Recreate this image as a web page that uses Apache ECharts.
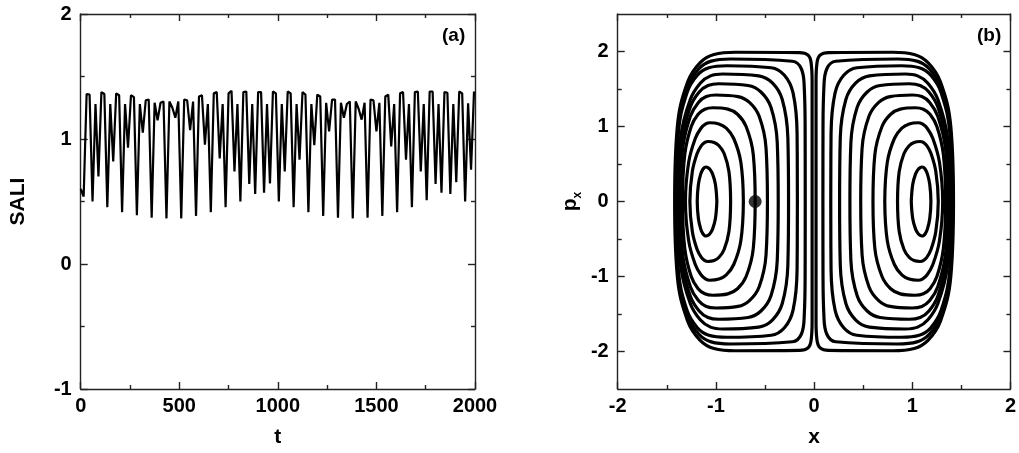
<!DOCTYPE html>
<html><head><meta charset="utf-8">
<script src="https://cdn.jsdelivr.net/npm/echarts@6/dist/echarts.min.js"></script>
<style>html,body{margin:0;padding:0;background:#fff}#c{width:1019px;height:453px}</style>
</head><body><div id="c"></div>
<script>
// ---------- panel (a): SALI vs t ----------
const tValues = [0,15,30,45,60,75,90,105,120,135,150,165,180,195,210,225,240,255,270,285,300,315,330,345,360,375,390,405,420,435,450,465,480,495,510,525,540,555,570,585,600,615,630,645,660,675,690,705,720,735,750,765,780,795,810,825,840,855,870,885,900,915,930,945,960,975,990,1005,1020,1035,1050,1065,1080,1095,1110,1125,1140,1155,1170,1185,1200,1215,1230,1245,1260,1275,1290,1305,1320,1335,1350,1365,1380,1395,1410,1425,1440,1455,1470,1485,1500,1515,1530,1545,1560,1575,1590,1605,1620,1635,1650,1665,1680,1695,1710,1725,1740,1755,1770,1785,1800,1815,1830,1845,1860,1875,1890,1905,1920,1935,1950,1965,1980,1995];
const saliValues = [0.60,0.54,1.36,1.355,0.50, 1.28,0.70,1.375,1.36,0.455, 1.28,0.82,1.365,1.35,0.415, 1.28,0.93,1.35,1.335,0.39, 1.28,1.05,1.31,1.315,0.37, 1.29,1.15,1.29,1.30,0.365, 1.30,1.25,1.17,1.30,0.365, 1.315,1.31,1.07,1.30,0.385, 1.34,1.35,0.955,1.28,0.415, 1.365,1.375,0.845,1.28,0.455, 1.365,1.385,0.74,1.28,0.50, 1.375,1.38,0.64,1.28,0.56, 1.375,1.375,0.57,1.28,0.645, 1.38,1.365,0.50,1.28,0.74, 1.38,1.365,0.455,1.28,0.835, 1.375,1.355,0.415,1.28,0.95, 1.355,1.34,0.385,1.29,1.06, 1.315,1.315,0.37,1.29,1.17, 1.28,1.30,0.365,1.30,1.24, 1.155,1.29,0.37,1.315,1.31, 1.06,1.29,0.385,1.34,1.355, 0.94,1.28,0.415,1.365,1.375, 0.835,1.28,0.455,1.375,1.38, 0.74,1.28,0.51,1.38,1.38, 0.64,1.28,0.57,1.375,1.37, 0.56,1.28,0.655,1.38,1.365, 0.50,1.285,0.755,1.38];

// ---------- panel (b): Poincare section (x, px) ----------
const leftIsland = [
[[-0.99,0],[-1.005,0.23],[-1.034,0.368],[-1.06,0.428],[-1.081,0.453],[-1.1,0.46],[-1.116,0.453],[-1.133,0.428],[-1.154,0.368],[-1.178,0.23],[-1.19,0],[-1.178,-0.23],[-1.154,-0.368],[-1.133,-0.428],[-1.116,-0.453],[-1.1,-0.46],[-1.081,-0.453],[-1.06,-0.428],[-1.034,-0.368],[-1.005,-0.23],[-0.99,0]],
[[-0.85,0],[-0.867,0.4],[-0.916,0.64],[-0.968,0.744],[-1.018,0.788],[-1.08,0.8],[-1.112,0.788],[-1.148,0.744],[-1.191,0.64],[-1.24,0.4],[-1.265,0],[-1.24,-0.4],[-1.191,-0.64],[-1.148,-0.744],[-1.112,-0.788],[-1.08,-0.8],[-1.018,-0.788],[-0.968,-0.744],[-0.916,-0.64],[-0.867,-0.4],[-0.85,0]],
[[-0.72,0],[-0.746,0.525],[-0.818,0.84],[-0.894,0.977],[-0.969,1.034],[-1.06,1.05],[-1.103,1.034],[-1.152,0.977],[-1.21,0.84],[-1.277,0.525],[-1.31,0],[-1.277,-0.525],[-1.21,-0.84],[-1.152,-0.977],[-1.103,-1.034],[-1.06,-1.05],[-0.969,-1.034],[-0.894,-0.977],[-0.818,-0.84],[-0.746,-0.525],[-0.72,0]],
[[-0.6,0],[-0.619,0.625],[-0.692,1],[-0.78,1.163],[-0.878,1.231],[-1.03,1.25],[-1.113,1.231],[-1.181,1.163],[-1.251,1],[-1.317,0.625],[-1.34,0],[-1.317,-0.625],[-1.251,-1],[-1.181,-1.163],[-1.113,-1.231],[-1.03,-1.25],[-0.878,-1.231],[-0.78,-1.163],[-0.692,-1],[-0.619,-0.625],[-0.6,0]],
[[-0.475,0],[-0.489,0.71],[-0.559,1.136],[-0.658,1.321],[-0.775,1.399],[-1,1.42],[-1.098,1.399],[-1.178,1.321],[-1.26,1.136],[-1.338,0.71],[-1.365,0],[-1.338,-0.71],[-1.26,-1.136],[-1.178,-1.321],[-1.098,-1.399],[-1,-1.42],[-0.775,-1.399],[-0.658,-1.321],[-0.559,-1.136],[-0.489,-0.71],[-0.475,0]],
[[-0.365,0],[-0.375,0.785],[-0.439,1.256],[-0.541,1.46],[-0.672,1.547],[-0.97,1.57],[-1.08,1.547],[-1.17,1.46],[-1.262,1.256],[-1.349,0.785],[-1.38,0],[-1.349,-0.785],[-1.262,-1.256],[-1.17,-1.46],[-1.08,-1.547],[-0.97,-1.57],[-0.672,-1.547],[-0.541,-1.46],[-0.439,-1.256],[-0.375,-0.785],[-0.365,0]],
[[-0.26,0],[-0.267,0.85],[-0.324,1.36],[-0.425,1.581],[-0.564,1.675],[-0.93,1.7],[-1.055,1.675],[-1.157,1.581],[-1.261,1.36],[-1.36,0.85],[-1.395,0],[-1.36,-0.85],[-1.261,-1.36],[-1.157,-1.581],[-1.055,-1.675],[-0.93,-1.7],[-0.564,-1.675],[-0.425,-1.581],[-0.324,-1.36],[-0.267,-0.85],[-0.26,0]],
[[-0.17,0],[-0.173,0.905],[-0.214,1.448],[-0.302,1.683],[-0.436,1.783],[-0.89,1.81],[-1.072,1.783],[-1.189,1.683],[-1.295,1.448],[-1.383,0.905],[-1.405,0],[-1.383,-0.905],[-1.295,-1.448],[-1.189,-1.683],[-1.072,-1.783],[-0.89,-1.81],[-0.436,-1.783],[-0.302,-1.683],[-0.214,-1.448],[-0.173,-0.905],[-0.17,0]],
[[-0.09,0],[-0.091,0.95],[-0.1,1.52],[-0.13,1.77],[-0.22,1.87],[-0.85,1.9],[-1.048,1.872],[-1.175,1.767],[-1.291,1.52],[-1.386,0.95],[-1.41,0],[-1.386,-0.95],[-1.291,-1.52],[-1.175,-1.767],[-1.048,-1.872],[-0.85,-1.9],[-0.22,-1.87],[-0.13,-1.77],[-0.1,-1.52],[-0.091,-0.95],[-0.09,0]],
[[-0.02,0],[-0.02,0.995],[-0.02,1.6],[-0.03,1.85],[-0.06,1.95],[-0.15,1.985],[-0.8,1.99],[-1.019,1.96],[-1.16,1.851],[-1.288,1.592],[-1.393,0.995],[-1.42,0],[-1.393,-0.995],[-1.288,-1.592],[-1.16,-1.851],[-1.019,-1.96],[-0.8,-1.99],[-0.15,-1.985],[-0.06,-1.95],[-0.03,-1.85],[-0.02,-1.6],[-0.02,-0.995],[-0.02,0]]
];
const rightIsland = [
[[0.99,0],[1.005,0.23],[1.034,0.368],[1.06,0.428],[1.081,0.453],[1.1,0.46],[1.116,0.453],[1.133,0.428],[1.154,0.368],[1.178,0.23],[1.19,0],[1.178,-0.23],[1.154,-0.368],[1.133,-0.428],[1.116,-0.453],[1.1,-0.46],[1.081,-0.453],[1.06,-0.428],[1.034,-0.368],[1.005,-0.23],[0.99,0]],
[[0.85,0],[0.867,0.4],[0.916,0.64],[0.968,0.744],[1.018,0.788],[1.08,0.8],[1.112,0.788],[1.148,0.744],[1.191,0.64],[1.24,0.4],[1.265,0],[1.24,-0.4],[1.191,-0.64],[1.148,-0.744],[1.112,-0.788],[1.08,-0.8],[1.018,-0.788],[0.968,-0.744],[0.916,-0.64],[0.867,-0.4],[0.85,0]],
[[0.72,0],[0.746,0.525],[0.818,0.84],[0.894,0.977],[0.969,1.034],[1.06,1.05],[1.103,1.034],[1.152,0.977],[1.21,0.84],[1.277,0.525],[1.31,0],[1.277,-0.525],[1.21,-0.84],[1.152,-0.977],[1.103,-1.034],[1.06,-1.05],[0.969,-1.034],[0.894,-0.977],[0.818,-0.84],[0.746,-0.525],[0.72,0]],
[[0.6,0],[0.619,0.625],[0.692,1],[0.78,1.163],[0.878,1.231],[1.03,1.25],[1.113,1.231],[1.181,1.163],[1.251,1],[1.317,0.625],[1.34,0],[1.317,-0.625],[1.251,-1],[1.181,-1.163],[1.113,-1.231],[1.03,-1.25],[0.878,-1.231],[0.78,-1.163],[0.692,-1],[0.619,-0.625],[0.6,0]],
[[0.475,0],[0.489,0.71],[0.559,1.136],[0.658,1.321],[0.775,1.399],[1,1.42],[1.098,1.399],[1.178,1.321],[1.26,1.136],[1.338,0.71],[1.365,0],[1.338,-0.71],[1.26,-1.136],[1.178,-1.321],[1.098,-1.399],[1,-1.42],[0.775,-1.399],[0.658,-1.321],[0.559,-1.136],[0.489,-0.71],[0.475,0]],
[[0.365,0],[0.375,0.785],[0.439,1.256],[0.541,1.46],[0.672,1.547],[0.97,1.57],[1.08,1.547],[1.17,1.46],[1.262,1.256],[1.349,0.785],[1.38,0],[1.349,-0.785],[1.262,-1.256],[1.17,-1.46],[1.08,-1.547],[0.97,-1.57],[0.672,-1.547],[0.541,-1.46],[0.439,-1.256],[0.375,-0.785],[0.365,0]],
[[0.26,0],[0.267,0.85],[0.324,1.36],[0.425,1.581],[0.564,1.675],[0.93,1.7],[1.055,1.675],[1.157,1.581],[1.261,1.36],[1.36,0.85],[1.395,0],[1.36,-0.85],[1.261,-1.36],[1.157,-1.581],[1.055,-1.675],[0.93,-1.7],[0.564,-1.675],[0.425,-1.581],[0.324,-1.36],[0.267,-0.85],[0.26,0]],
[[0.17,0],[0.173,0.905],[0.214,1.448],[0.302,1.683],[0.436,1.783],[0.89,1.81],[1.072,1.783],[1.189,1.683],[1.295,1.448],[1.383,0.905],[1.405,0],[1.383,-0.905],[1.295,-1.448],[1.189,-1.683],[1.072,-1.783],[0.89,-1.81],[0.436,-1.783],[0.302,-1.683],[0.214,-1.448],[0.173,-0.905],[0.17,0]],
[[0.09,0],[0.091,0.95],[0.1,1.52],[0.13,1.77],[0.22,1.87],[0.85,1.9],[1.048,1.872],[1.175,1.767],[1.291,1.52],[1.386,0.95],[1.41,0],[1.386,-0.95],[1.291,-1.52],[1.175,-1.767],[1.048,-1.872],[0.85,-1.9],[0.22,-1.87],[0.13,-1.77],[0.1,-1.52],[0.091,-0.95],[0.09,0]],
[[0.02,0],[0.02,0.995],[0.02,1.6],[0.03,1.85],[0.06,1.95],[0.15,1.985],[0.8,1.99],[1.019,1.96],[1.16,1.851],[1.288,1.592],[1.393,0.995],[1.42,0],[1.393,-0.995],[1.288,-1.592],[1.16,-1.851],[1.019,-1.96],[0.8,-1.99],[0.15,-1.985],[0.06,-1.95],[0.03,-1.85],[0.02,-1.6],[0.02,-0.995],[0.02,0]]
];
const markedPoint = [[-0.6, 0]];

const pxMajorTicks = [-2, -1, 0, 1, 2];
const pxMinorTicks = [-1.5, -0.5, 0.5, 1.5];

// ---------- styling ----------
const FONT = "'Liberation Sans', Arial, Helvetica, sans-serif";
const AX = '#222';
const plain = function (v) { return String(v); };
const lbl = { color: '#000', fontFamily: FONT, fontWeight: 'bold', fontSize: 20, formatter: plain };
const nameStyle = { color: '#000', fontFamily: FONT, fontWeight: 'bold', fontSize: 21 };
const tickStyle = { color: AX, width: 1.4 };

function axisBase(extra) {
  return Object.assign({
    type: 'value',
    splitLine: { show: false },
    axisLine: { show: true, onZero: false, lineStyle: { color: AX, width: 1.4 } },
    axisTick: { show: true, inside: true, length: 7, lineStyle: tickStyle },
    minorTick: { show: true, splitNumber: 2, length: 4, lineStyle: tickStyle },
    axisLabel: Object.assign({ show: true, margin: 7 }, lbl)
  }, extra);
}

const chart = echarts.init(document.getElementById('c'), null, { renderer: 'canvas' });

const ringSeries = [];
leftIsland.concat(rightIsland).forEach(function (ring) {
  ringSeries.push({
    type: 'line', xAxisIndex: 2, yAxisIndex: 2, data: ring,
    smooth: 0.4, symbol: 'none', silent: true, animation: false,
    lineStyle: { color: '#000', width: 3.2 }
  });
});

chart.setOption({
  animation: false,
  backgroundColor: '#fff',
  textStyle: { fontFamily: FONT },
  grid: [
    { left: 80.7, top: 14, width: 394.3, height: 376 },
    { left: 617.7, top: 14, width: 395, height: 376 }
  ],
  xAxis: [
    axisBase({ gridIndex: 0, position: 'bottom', min: 0, max: 2000, interval: 500,
      name: 't', nameLocation: 'middle', nameGap: 38, nameTextStyle: nameStyle }),
    axisBase({ gridIndex: 0, position: 'top', min: 0, max: 2000, interval: 500, axisLabel: { show: false } }),
    axisBase({ gridIndex: 1, position: 'bottom', min: -2, max: 2, interval: 1,
      name: 'x', nameLocation: 'middle', nameGap: 38, nameTextStyle: nameStyle }),
    axisBase({ gridIndex: 1, position: 'top', min: -2, max: 2, interval: 1, axisLabel: { show: false } })
  ],
  yAxis: [
    axisBase({ gridIndex: 0, position: 'left', min: -1, max: 2, interval: 1,
      axisLabel: Object.assign({ margin: 9 }, lbl),
      name: 'SALI', nameLocation: 'middle', nameGap: 52, nameRotate: 90, nameTextStyle: nameStyle }),
    axisBase({ gridIndex: 0, position: 'right', min: -1, max: 2, interval: 1, axisLabel: { show: false } }),
    axisBase({ gridIndex: 1, position: 'left', min: -2.5, max: 2.5, interval: 0.5,
      minorTick: { show: false },
      axisTick: { show: true, inside: true, length: 7, customValues: pxMajorTicks, lineStyle: tickStyle },
      axisLabel: Object.assign({ margin: 9, customValues: pxMajorTicks }, lbl),
      name: '{p|p}{s|x}', nameLocation: 'middle', nameGap: 34, nameRotate: 90,
      nameTextStyle: Object.assign({}, nameStyle, { rich: {
        p: { fontFamily: FONT, fontWeight: 'bold', fontSize: 21, lineHeight: 26, color: '#000' },
        s: { fontFamily: FONT, fontWeight: 'bold', fontSize: 12, lineHeight: 12, verticalAlign: 'bottom', color: '#000' }
      } }) }),
    axisBase({ gridIndex: 1, position: 'right', min: -2.5, max: 2.5, interval: 0.5,
      minorTick: { show: false },
      axisTick: { show: true, inside: true, length: 7, customValues: pxMajorTicks, lineStyle: tickStyle },
      axisLabel: { show: false } }),
    axisBase({ gridIndex: 1, position: 'left', min: -2.5, max: 2.5, interval: 0.5,
      minorTick: { show: false }, axisLine: { show: false, onZero: false },
      axisTick: { show: true, inside: true, length: 4, customValues: pxMinorTicks, lineStyle: tickStyle },
      axisLabel: { show: false } }),
    axisBase({ gridIndex: 1, position: 'right', min: -2.5, max: 2.5, interval: 0.5,
      minorTick: { show: false }, axisLine: { show: false, onZero: false },
      axisTick: { show: true, inside: true, length: 4, customValues: pxMinorTicks, lineStyle: tickStyle },
      axisLabel: { show: false } })
  ],
  graphic: [
    { type: 'text', left: 442, top: 26, style: { text: '(a)', fill: '#000', font: "bold 19px 'Liberation Sans', Arial, sans-serif" } },
    { type: 'text', left: 977, top: 26, style: { text: '(b)', fill: '#000', font: "bold 19px 'Liberation Sans', Arial, sans-serif" } }
  ],
  series: [
    { type: 'line', xAxisIndex: 0, yAxisIndex: 0, symbol: 'none', silent: true,
      data: tValues.map(function (t, i) { return [t, saliValues[i]]; }),
      lineStyle: { color: '#000', width: 2.2 } }
  ].concat(ringSeries).concat([
    { type: 'scatter', xAxisIndex: 2, yAxisIndex: 2, data: markedPoint, symbol: 'circle', symbolSize: 13,
      itemStyle: { color: '#000' }, silent: true, z: 5 }
  ])
});
</script></body></html>
